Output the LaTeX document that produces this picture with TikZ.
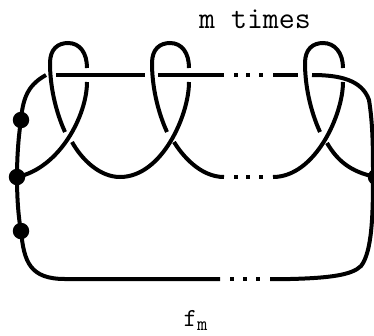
\documentclass[tikz,border=0pt]{standalone}
\usetikzlibrary{positioning}
\begin{document}
\begin{tikzpicture}[
  x=1pt, y=-1pt,
  strand/.style={line width=4pt, black},
  blob/.style={circle, fill=black, inner sep=0pt, minimum size=16.5pt},
  tick/.style={rectangle, fill=black, inner sep=0pt, minimum size=4pt},
  caption/.style={font=\ttfamily\fontsize{31}{31}\selectfont, inner sep=0pt, anchor=base},
]
  \useasboundingbox (0,0) rectangle (374,335);

  \coordinate (topL) at (46,75);
  \node[blob] (dotA) at (21,120) {};
  \node[blob] (dotB) at (17,177) {};
  \node[blob] (dotC) at (21,231) {};
  \node[blob] (dotD) at (376,177) {};

  % outer strand
  \draw[strand] (topL) .. controls (30,84) and (23,95) .. (dotA.center)
    .. controls (18,140) and (17,160) .. (dotB.center)
    .. controls (17,195) and (18,215) .. (dotC.center)
    .. controls (24,262) and (30,279) .. (65,279) -- (220,279);
  \draw[strand] (270,279) -- (290,279) .. controls (330,278) and (352,275) .. (361,266)
    .. controls (372,252) and (373,215) .. (373,177)
    .. controls (373,150) and (373,125) .. (369,100)
    .. controls (362,80) and (340,75) .. (312,75);

  % top row
  \draw[strand] (56,75) -- (145,75);
  \draw[strand] (158,75) -- (224,75);
  \draw[strand] (273,75) -- (298,75);

  % first loop
  \draw[strand] (65,132) .. controls (55,110) and (50,85) .. (50,63)
    .. controls (50,49) and (58,43) .. (68,43)
    .. controls (80,43) and (87,53) .. (87,68);
  \draw[strand] (87,82) .. controls (87,115) and (60,168) .. (dotB.center);

  % second loop
  \draw[strand] (167,132) .. controls (157,110) and (152,85) .. (152,63)
    .. controls (152,49) and (160,43) .. (170,43)
    .. controls (182,43) and (189,53) .. (189,68);
  \draw[strand] (189,82) .. controls (189,115) and (162,177) .. (120,177)
    .. controls (100,177) and (82,160) .. (72,142);
  \draw[strand] (174,142) .. controls (182,155) and (200,177) .. (224,177);

  % third loop
  \draw[strand] (320,132) .. controls (310,110) and (305,85) .. (305,63)
    .. controls (305,49) and (313,43) .. (323,43)
    .. controls (335,43) and (343,53) .. (343,68);
  \draw[strand] (343,82) .. controls (343,115) and (315,177) .. (273,177);
  \draw[strand] (327,143) .. controls (337,160) and (350,172) .. (dotD.center);

  % the dots in each row
  \node[tick] (topa) at (236,75) {};
  \node[tick] (topb) at (248,75) {};
  \node[tick] (topc) at (261,75) {};
  \node[tick] (mida) at (236,177) {};
  \node[tick] (midb) at (248,177) {};
  \node[tick] (midc) at (261,177) {};
  \node[tick] (lowa) at (232,279) {};
  \node[tick] (lowb) at (245,279) {};
  \node[tick] (lowc) at (258,279) {};

  \node[caption] (times) at (255,28) {m times};
  \node[caption, font=\ttfamily\fontsize{26}{26}\selectfont] (name) at (195.5,326)
    {f\raisebox{-4pt}{\fontsize{20}{20}\selectfont m}};
\end{tikzpicture}
\end{document}
